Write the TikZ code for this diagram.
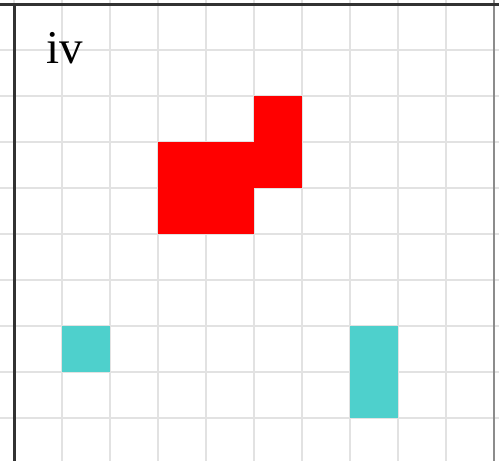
\documentclass[tikz,border=0pt]{standalone}
\usepackage{fontspec}
\setmainfont{Liberation Serif}
\definecolor{shapered}{RGB}{255,0,0}
\definecolor{shapecyan}{RGB}{78,208,204}
\definecolor{gridgray}{RGB}{226,226,226}
\definecolor{framedark}{RGB}{50,50,50}
\definecolor{framegray}{RGB}{140,140,140}

\begin{document}
\begin{tikzpicture}[x=48pt, y=-46pt,
  gridline/.style={draw=gridgray, line width=1.3pt},
  cellred/.style={fill=shapered},
  cellcyan/.style={fill=shapecyan},
  frameline/.style={draw=framedark, line width=3pt},
  framelight/.style={draw=framegray, line width=2.4pt},
  lbl/.style={font=\fontsize{47}{50}\selectfont, inner sep=0pt, anchor=center},
]
  \useasboundingbox (-0.2917,-0.087) rectangle (10.104,9.913);
  \clip (-0.2917,-0.087) rectangle (10.104,9.913);
  \fill[white] (-1,-1) rectangle (11,11);
  % grid
  \foreach \k in {-1,...,11}
    \draw[gridline] (\k,-1) -- (\k,11);
  \foreach \j in {-1,...,11}
    \draw[gridline] (-1,\j) -- (11,\j);
  % shapes
  \fill[cellred] (3,3) rectangle (5,5);
  \fill[cellred] (5,2) rectangle (6,4);
  \fill[cellcyan] (1,7) rectangle (2,8);
  \fill[cellcyan] (7,7) rectangle (8,9);
  % frame
  \draw[framelight] (10,-1) -- (10,11);
  \draw[frameline] (0,11) -- (0,0);
  \draw[frameline] (-1,0) -- (11,0);
  \node[lbl] (tag) at (1.06,0.96) {iv};
\end{tikzpicture}
\end{document}
